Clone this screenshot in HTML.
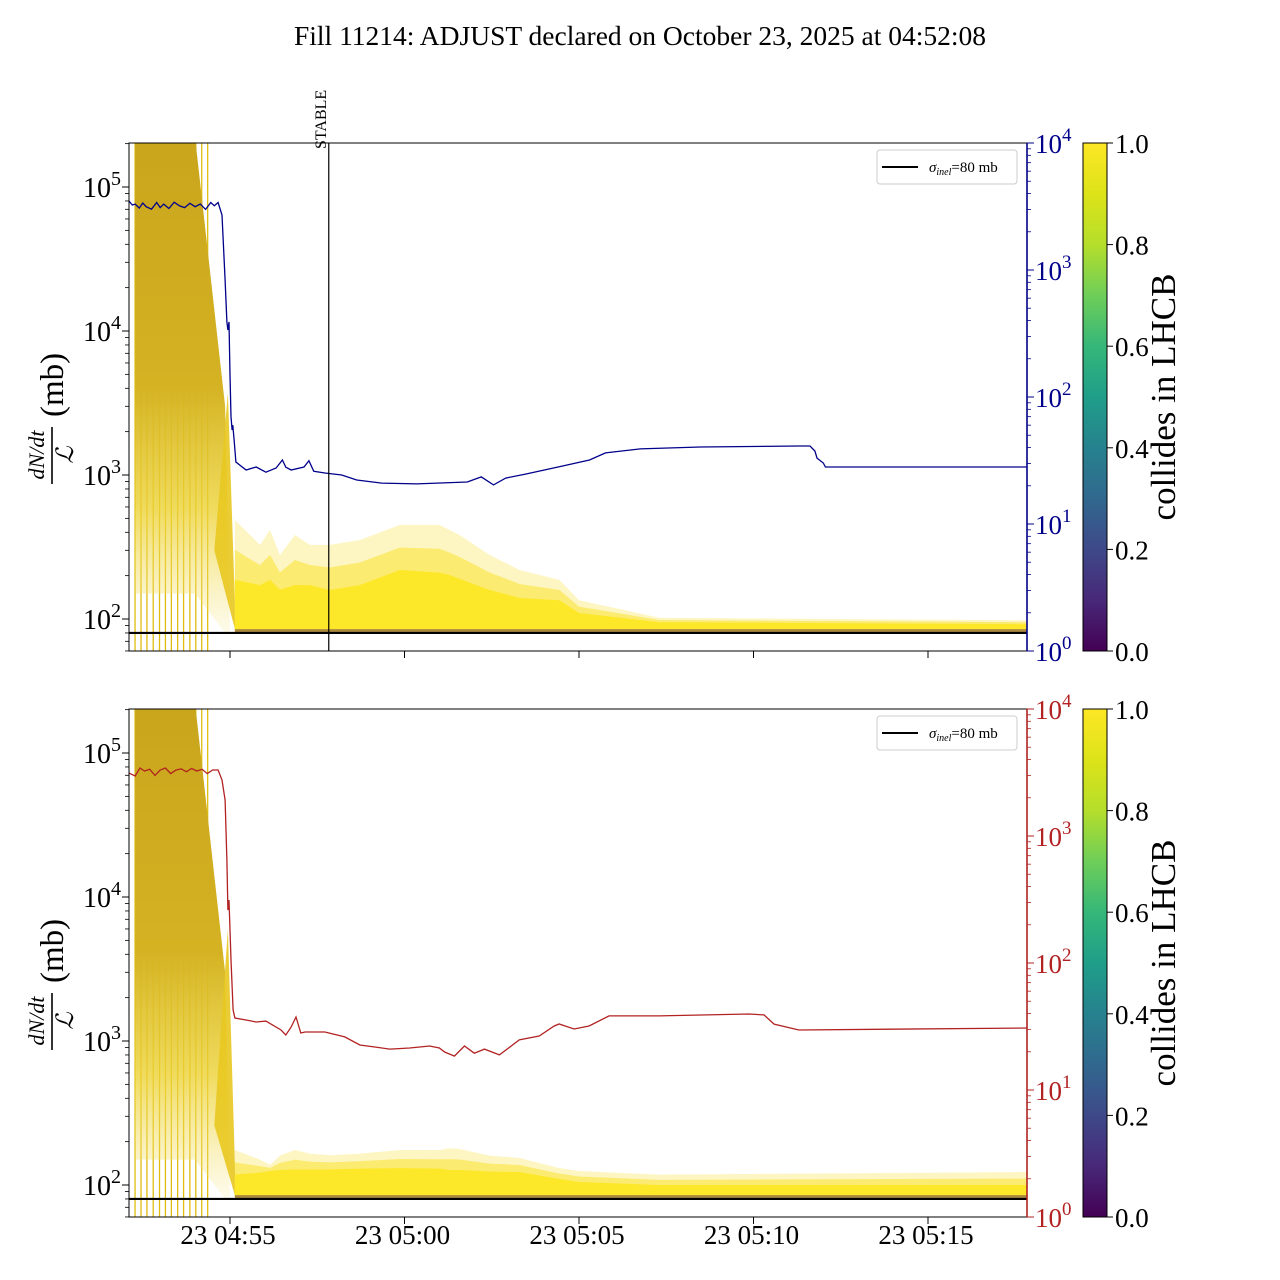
<!DOCTYPE html>
<html><head><meta charset="utf-8"><style>
html,body{margin:0;padding:0;background:#fff;}
svg{display:block;font-family:"Liberation Serif",serif;}
</style></head><body>
<svg id="chart" width="1280" height="1280" viewBox="0 0 1280 1280" xmlns="http://www.w3.org/2000/svg">
<defs>
<linearGradient id="viridis" x1="0" y1="1" x2="0" y2="0">
<stop offset="0" stop-color="#440154"/><stop offset="0.1" stop-color="#482878"/><stop offset="0.2" stop-color="#3e4989"/><stop offset="0.3" stop-color="#31688e"/><stop offset="0.4" stop-color="#26828e"/><stop offset="0.5" stop-color="#1f9e89"/><stop offset="0.6" stop-color="#35b779"/><stop offset="0.7" stop-color="#6ece58"/><stop offset="0.8" stop-color="#b5de2b"/><stop offset="0.9" stop-color="#dde318"/><stop offset="1" stop-color="#fde725"/>
</linearGradient>
<linearGradient id="blockgrad" x1="0" y1="0" x2="0" y2="1">
<stop offset="0" stop-color="#c9a51c"/><stop offset="0.5" stop-color="#d4b222"/><stop offset="0.75" stop-color="#ecd235" stop-opacity="0.8"/><stop offset="1" stop-color="#f6e47a" stop-opacity="0.15"/>
</linearGradient>
</defs>
<text x="640" y="45" text-anchor="middle" font-size="27.5">Fill 11214: ADJUST declared on October 23, 2025 at 04:52:08</text>
<g id="panels"></g>
</svg>
<script>
// ---- data (time in minutes after 04:50:00) ----
const xTickTimes = [5, 10, 15, 20, 25];
const xTickLabels = ["23 04:55", "23 05:00", "23 05:05", "23 05:10", "23 05:15"];
const leftTickValues = [100, 1000, 10000, 100000];
const leftTickExps = ["2", "3", "4", "5"];
const rightTickValues = [1, 10, 100, 1000, 10000];
const rightTickExps = ["0", "1", "2", "3", "4"];
const cbTicks = [0.0, 0.2, 0.4, 0.6, 0.8, 1.0];
const cbTickLabels = ["0.0", "0.2", "0.4", "0.6", "0.8", "1.0"];
const sigmaInel = 80;
const stableTime = 7.83;

const blueTimes = [2.11,2.2,2.28,2.4,2.5,2.6,2.75,2.9,3.0,3.1,3.25,3.4,3.55,3.7,3.85,4.0,4.15,4.3,4.45,4.55,4.66,4.77,4.86,4.91,4.94,4.97,5.0,5.03,5.06,5.08,5.12,5.17,5.46,5.75,6.03,6.32,6.5,6.6,6.75,7.12,7.26,7.4,7.72,8.2,8.63,9.35,10.35,11.8,12.2,12.55,12.9,13.5,14.53,15.3,15.76,16.75,18.47,21.3,21.62,21.76,21.82,22.0,22.06,27.84];
const blueValues = [3490,3250,3300,3080,3370,3150,3010,3400,3100,3300,3050,3420,3200,3100,3350,3150,3300,3000,3400,3200,3400,2710,834,390,337,390,149,70,55,60,45,30.8,26.6,28.1,25.6,27.6,31.9,28.0,26.6,28.1,31.5,26.0,25.2,24.3,22.2,21.0,20.7,21.4,23.5,20.3,23.0,24.8,28.6,31.9,36.3,39.0,40.4,41.1,41.1,37.6,33.0,30.2,28.1,28.1];

const redTimes = [2.11,2.28,2.42,2.55,2.7,2.85,3.0,3.15,3.3,3.45,3.6,3.75,3.9,4.05,4.2,4.35,4.5,4.66,4.77,4.86,4.91,4.94,4.97,5.03,5.09,5.14,5.46,5.75,6.03,6.46,6.6,6.75,6.89,7.03,7.15,7.72,8.29,8.72,9.15,9.58,10.15,10.72,11.0,11.15,11.43,11.72,12.0,12.29,12.72,13.29,13.86,14.29,14.43,14.86,15.29,15.86,17.3,19.87,20.3,20.59,21.3,27.84];
const redValues = [3130,2970,3430,3250,3350,3000,3310,3430,3100,3300,3380,3200,3400,3250,3350,3100,3310,3310,2760,1920,647,261,313,106,42.7,36.9,35.6,34.3,34.9,29.7,27.1,31.3,37.6,28.1,28.6,28.6,26.2,22.6,21.8,21.0,21.4,22.2,21.4,19.9,18.5,22.2,19.5,21.0,18.9,24.8,26.6,31.9,33.1,30.2,31.9,38.3,38.3,39.7,39.0,33.0,29.7,30.8];

// yellow envelope series
const envTimes = [5.14,5.86,6.15,6.43,6.86,7.29,7.86,8.72,9.87,11.0,11.29,11.58,12.44,13.3,14.44,15.0,17.3,27.84];
const topLightValues = [487,327,415,278,383,327,327,354,450,450,415,383,278,219,187,135,102,98];
const topDenseValues = [187,172,187,160,172,172,159,172,219,210,202,190,159,140,135,110,95,92];
const botLightValues = [175,150,138,160,175,165,161,165,175,175,180,178,160,154,131,125,118,123];
const botDenseValues = [118,122,125,127,128,128,128,130,131,130,127,127,124,123,110,105,100,100];

// early-time saturated block
const blockTimes = [2.28, 4.0, 4.86, 5.0];
const blockTopValues = [220000, 220000, 3000, 80];
const blockLowValues = [150, 150, 80, 80];
const spikeTimes = [4.55, 4.94, 5.17];
const topSpikeValues = [300, 3700, 80];
const botSpikeValues = [260, 6000, 80];
const combTimes = [2.28,2.45,2.62,2.8,2.98,3.15,3.32,3.5,3.67,3.85,4.02,4.19,4.36];

const NS = "http://www.w3.org/2000/svg";
const X0 = 129, X1 = 1027;
function xs(t){ return 230 + (t - 5) * 34.9; }
function mk(tag, attrs, parent){ const e = document.createElementNS(NS, tag); for (const k in attrs) e.setAttribute(k, attrs[k]); parent.appendChild(e); return e; }

function panel(idx, top, rightColor, lineTimes, lineValues, lightVals, denseVals, spikeVals){
  const bottom = top + 508;
  const dec1000 = top + 332;
  const yl = v => dec1000 - (Math.log10(v) - 3) * 144;
  const yr = v => bottom - Math.log10(v) * 127;
  const root = document.getElementById('panels');
  const g = mk('g', {}, root);
  
  
  const clipId = 'clip' + idx;
  const cp = mk('clipPath', {id: clipId}, g);
  mk('rect', {x: X0, y: top, width: X1 - X0, height: 508}, cp);
  const plot = mk('g', {'clip-path': 'url(#' + clipId + ')'}, g);
  
  

  combTimes.forEach(t => {
    const l = mk('line', {x1: xs(t), x2: xs(t), y1: top, y2: bottom, stroke: '#e0bd10', 'stroke-width': 1.3}, plot);
    
    
  });
  let pts = [];
  blockTimes.forEach((t, i) => pts.push(xs(t) + ',' + yl(blockTopValues[i])));
  for (let i = blockTimes.length - 1; i >= 0; i--) pts.push(xs(blockTimes[i]) + ',' + yl(blockLowValues[i]));
  const blk = mk('polygon', {points: pts.join(' '), fill: 'url(#blockgrad)'}, plot);
  
  
  pts = spikeTimes.map((t, i) => xs(t) + ',' + yl(spikeVals[i]));
  pts.push(xs(spikeTimes[2]) + ',' + yl(80));
  const sp = mk('polygon', {points: pts.join(' '), fill: '#e8c820', 'fill-opacity': 0.9}, plot);
  
  

  function band(vals, fill, op, name){
    let p = [xs(envTimes[0]) + ',' + yl(80)];
    envTimes.forEach((t, i) => p.push(xs(t) + ',' + yl(vals[i])));
    p.push(xs(envTimes[envTimes.length - 1]) + ',' + yl(80));
    const e = mk('polygon', {points: p.join(' '), fill: fill, 'fill-opacity': op}, plot);
    
    
  }
  band(lightVals, '#fbe96a', 0.4, 'envelope-light');
  band(lightVals.map((v, i) => Math.sqrt(v * denseVals[i])), '#fbe53a', 0.6, 'envelope-mid');
  band(denseVals, '#fde725', 0.95, 'envelope-dense');
  band(denseVals.map(() => 85), '#5a2a5a', 0.5, 'envelope-low-collide');

  const sl = mk('line', {x1: X0, x2: X1, y1: yl(sigmaInel), y2: yl(sigmaInel), stroke: '#000', 'stroke-width': 2.2}, plot);
  
  

  const d = lineTimes.map((t, i) => (i ? 'L' : 'M') + xs(t).toFixed(1) + ',' + yr(lineValues[i]).toFixed(1)).join('');
  const ln = mk('path', {d: d, fill: 'none', stroke: rightColor, 'stroke-width': 1.3}, plot);
  
  

  if (idx === 1) {
    const st = mk('line', {x1: xs(stableTime), x2: xs(stableTime), y1: top, y2: bottom, stroke: '#000', 'stroke-width': 1.2}, g);
    
    
    const tx = mk('text', {x: 0, y: 0, 'font-size': 16, transform: 'translate(' + (xs(stableTime) - 3) + ',' + (top + 6) + ') rotate(-90)'}, g);
    tx.textContent = 'STABLE';
    
    
  }

  const fr = mk('rect', {x: X0, y: top, width: X1 - X0, height: 508, fill: 'none', stroke: '#000', 'stroke-width': 1}, g);
  
  
  mk('line', {x1: X1, x2: X1, y1: top, y2: bottom, stroke: rightColor, 'stroke-width': 1.6}, g);

  leftTickValues.forEach((v, i) => {
    const y = yl(v);
    mk('line', {x1: X0 - 7, x2: X0, y1: y, y2: y, stroke: '#000', 'stroke-width': 1}, g);
    const t = mk('text', {x: X0 - 8, y: y + 10, 'text-anchor': 'end', 'font-size': 28}, g);
    t.innerHTML = '10<tspan dy="-12" font-size="20">' + leftTickExps[i] + '</tspan>';
    
    
  });
  for (let dcd = 1; dcd <= 5; dcd++) for (let m = 2; m <= 9; m++) {
    const v = m * Math.pow(10, dcd), y = yl(v);
    if (y > top && y < bottom) mk('line', {x1: X0 - 4, x2: X0, y1: y, y2: y, stroke: '#000', 'stroke-width': 0.8}, g);
  }
  rightTickValues.forEach((v, i) => {
    const y = yr(v);
    mk('line', {x1: X1, x2: X1 + 7, y1: y, y2: y, stroke: rightColor, 'stroke-width': 1}, g);
    const t = mk('text', {x: X1 + 8, y: y + 10, 'font-size': 27, fill: rightColor}, g);
    t.innerHTML = '10<tspan dy="-12" font-size="19">' + rightTickExps[i] + '</tspan>';
    
    
  });
  for (let dcd = 0; dcd < 4; dcd++) for (let m = 2; m <= 9; m++) {
    const y = yr(m * Math.pow(10, dcd));
    mk('line', {x1: X1, x2: X1 + 4, y1: y, y2: y, stroke: rightColor, 'stroke-width': 0.8}, g);
  }
  xTickTimes.forEach((t, i) => {
    const x = xs(t);
    mk('line', {x1: x, x2: x, y1: bottom, y2: bottom + 7, stroke: '#000', 'stroke-width': 1}, g);
    if (idx === 2) {
      const tl = mk('text', {x: x - 2, y: bottom + 27, 'text-anchor': 'middle', 'font-size': 27}, g);
      tl.textContent = xTickLabels[i];
      
      
    }
  });
  const cy = top + 254;
  const yt = mk('g', {transform: 'translate(52,' + cy + ') rotate(-90)'}, g);
  
  
  const a = mk('text', {x: -58, y: -8, 'text-anchor': 'middle', 'font-size': 22, 'font-style': 'italic'}, yt); a.textContent = 'dN/dt';
  mk('line', {x1: -87, x2: -30, y1: 0, y2: 0, stroke: '#000', 'stroke-width': 1.6}, yt);
  const b = mk('text', {x: -58, y: 21, 'text-anchor': 'middle', 'font-size': 24, 'font-style': 'italic'}, yt); b.textContent = 'ℒ';
  const c = mk('text', {x: -20, y: 11, 'font-size': 33}, yt); c.textContent = '(mb)';

  const lg = mk('g', {}, g);
  
  
  mk('rect', {x: 877, y: top + 7, width: 140, height: 34, rx: 3, fill: '#fff', stroke: '#ccc', 'stroke-width': 1}, lg);
  mk('line', {x1: 882, x2: 918, y1: top + 24, y2: top + 24, stroke: '#000', 'stroke-width': 2}, lg);
  const lt = mk('text', {x: 929, y: top + 29, 'font-size': 15}, lg);
  lt.innerHTML = '<tspan font-style="italic">σ</tspan><tspan font-style="italic" font-size="10" dy="3">inel</tspan><tspan dy="-3">=80 mb</tspan>';
  
  

  const cb = mk('g', {}, g);
  
  
  mk('rect', {x: 1083, y: top, width: 24, height: 508, fill: 'url(#viridis)', stroke: '#000', 'stroke-width': 1}, cb);
  cbTicks.forEach((v, i) => {
    const y = bottom - v * 508;
    mk('line', {x1: 1107, x2: 1113, y1: y, y2: y, stroke: '#000', 'stroke-width': 1}, cb);
    const t = mk('text', {x: 1115, y: y + 10, 'font-size': 27}, cb);
    t.textContent = cbTickLabels[i];
    
    
  });
  const cl = mk('text', {x: 0, y: 0, 'text-anchor': 'middle', 'font-size': 35, transform: 'translate(1175,' + (top + 254) + ') rotate(-90)'}, cb);
  cl.textContent = 'collides in LHCB';
  
  
}
panel(1, 143, '#00008b', blueTimes, blueValues, topLightValues, topDenseValues, topSpikeValues);
panel(2, 709, '#b22222', redTimes, redValues, botLightValues, botDenseValues, botSpikeValues);
</script>
</body></html>
